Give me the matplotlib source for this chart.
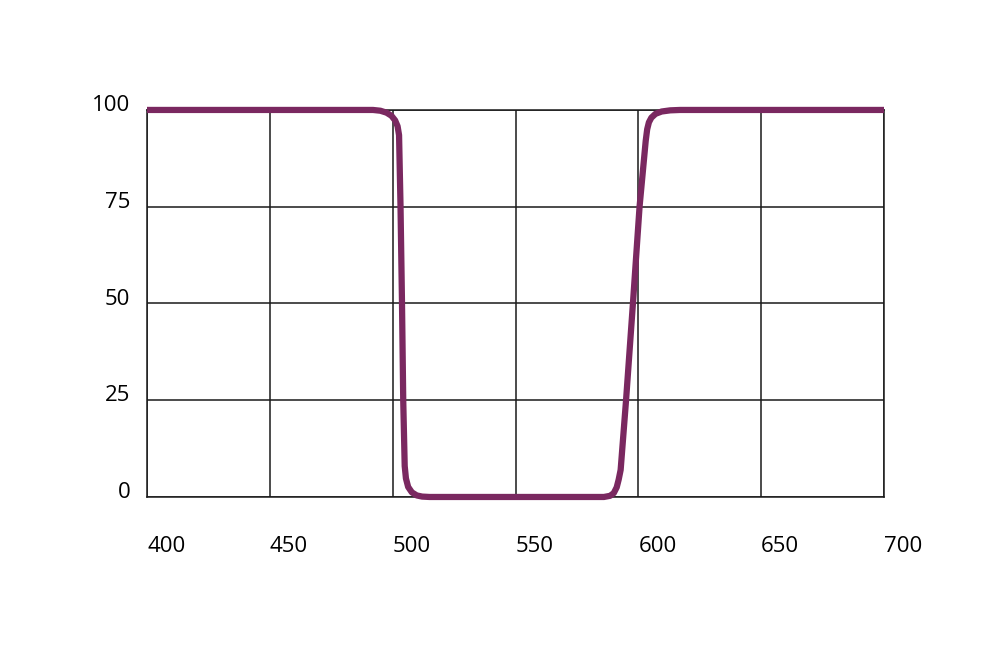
import matplotlib
matplotlib.use("Agg")
import matplotlib.pyplot as plt
from matplotlib.transforms import ScaledTranslation

wavelength = [400, 480, 492.0, 495.0, 497.5, 499.5, 501.0, 502.0, 502.6, 503.2, 503.8, 504.3,
              504.9, 505.4, 506.3, 507.8, 509.8, 512.0, 515.0, 580.0, 586.0, 588.5, 590.0,
              591.2, 592.0, 592.8, 595.0, 597.8, 600.5, 603.0, 603.6, 604.3, 605.3, 607.0,
              609.5, 613.0, 617.0, 700]
transmission = [100, 100, 100, 99.8, 99.3, 98.5, 97.3, 95.8, 93.5, 75.0, 50.0, 25.0,
                8.0, 4.8, 2.6, 1.2, 0.4, 0.1, 0.0, 0.0, 0.0, 0.3, 1.0,
                2.5, 4.5, 7.0, 25.0, 50.0, 75.0, 92.0, 95.0, 96.8, 98.0, 99.0,
                99.6, 99.9, 100, 100]

xticks = [400, 450, 500, 550, 600, 650, 700]
yticks = [0, 25, 50, 75, 100]

fig = plt.figure(figsize=(10, 6.51), dpi=100)
ax = fig.add_axes([0.147, 0.2366, 0.737, 0.5945])
ax.set_xlim(400, 700)
ax.set_ylim(0, 100)
ax.set_xticks(xticks)
ax.set_yticks(yticks)
ax.set_xticklabels([str(v) for v in xticks], ha='left', fontsize=16, family='Open Sans')
ax.set_yticklabels([str(v) for v in yticks], fontsize=16, family='Open Sans')
ax.tick_params(axis='x', length=0, pad=28)
ax.tick_params(axis='y', length=0, pad=12)
for lab in ax.get_yticklabels():
    lab.set_transform(lab.get_transform() + ScaledTranslation(0, 5/72, fig.dpi_scale_trans))
ax.grid(True, color='#1a1a1a', linewidth=1.1)
for s in ax.spines.values():
    s.set_color('#1a1a1a')
    s.set_linewidth(1.1)
ax.plot(wavelength, transmission, color='#7a2860', linewidth=4.5,
        solid_joinstyle='round', solid_capstyle='butt', clip_on=False, zorder=5)
fig.savefig('out.png', dpi=100)
